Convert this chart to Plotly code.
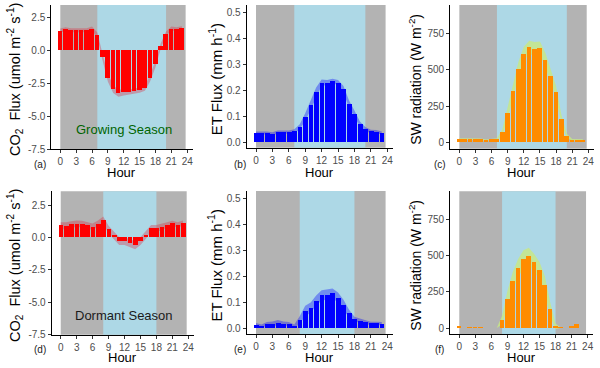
import plotly.graph_objects as go

# hours of the day (bar centres)
hours = list(range(24))

# CO2 flux, umol m-2 s-1
co2_growing = [1.49, 1.59, 1.52, 1.52, 1.52, 1.52, 1.64, 1.14, -0.53, -2.10, -2.95, -3.28,
               -3.18, -3.18, -3.13, -3.03, -2.88, -2.10, -1.04, 0.33, 1.26, 1.64, 1.59, 1.67]
co2_growing_se = [0.15, 0.15, 0.15, 0.15, 0.15, 0.15, 0.15, 0.2, 0.25, 0.3, 0.3, 0.25,
                  0.25, 0.2, 0.2, 0.2, 0.2, 0.25, 0.25, 0.2, 0.15, 0.15, 0.15, 0.15]
co2_dormant = [0.92, 0.87, 1.0, 1.05, 1.03, 0.92, 0.82, 1.05, 1.32, 0.61, 0.18, -0.29,
               -0.29, -0.45, -0.6, -0.29, 0.18, 0.71, 0.71, 0.79, 0.97, 1.08, 0.97, 1.1]
co2_dormant_se = [0.25, 0.3, 0.25, 0.25, 0.25, 0.25, 0.25, 0.25, 0.3, 0.3, 0.3, 0.3,
                  0.3, 0.3, 0.3, 0.3, 0.3, 0.25, 0.25, 0.25, 0.2, 0.2, 0.2, 0.2]

# ET flux, mm h-1
et_growing = [0.036, 0.036, 0.036, 0.033, 0.039, 0.039, 0.039, 0.042, 0.060, 0.097, 0.144, 0.193,
              0.230, 0.230, 0.237, 0.230, 0.205, 0.147, 0.111, 0.070, 0.051, 0.042, 0.041, 0.036]
et_growing_se = [0.006, 0.006, 0.006, 0.006, 0.006, 0.006, 0.006, 0.008, 0.01, 0.015, 0.018, 0.018,
                 0.012, 0.01, 0.008, 0.01, 0.012, 0.015, 0.012, 0.01, 0.008, 0.006, 0.006, 0.006]
et_dormant = [0.014, 0.009, 0.017, 0.018, 0.022, 0.018, 0.017, 0.009, 0.032, 0.067, 0.080, 0.107,
              0.127, 0.130, 0.136, 0.118, 0.090, 0.058, 0.035, 0.030, 0.023, 0.019, 0.019, 0.018]
et_dormant_se = [0.006, 0.006, 0.007, 0.008, 0.01, 0.008, 0.007, 0.006, 0.015, 0.02, 0.02, 0.02,
                 0.02, 0.02, 0.018, 0.02, 0.02, 0.015, 0.01, 0.008, 0.007, 0.006, 0.006, 0.006]

# shortwave radiation, W m-2
sw_growing = [23, 23, 21, 23, 21, 14, 21, 21, 69, 203, 352, 506,
              610, 656, 642, 651, 569, 458, 348, 159, 44, 18, 18, 16]
sw_growing_se = [5, 5, 5, 5, 5, 5, 5, 8, 20, 40, 45, 50,
                 50, 45, 50, 45, 50, 45, 40, 30, 15, 5, 5, 5]
sw_dormant = [7, None, 5, 5, 5, None, None, None, 55, 196, 323, 413,
              478, 496, 452, 397, 298, 129, 12, 2, None, 7, 28, None]
sw_dormant_se = [0, 0, 0, 0, 0, 0, 0, 0, 30, 60, 65, 65,
                 60, 60, 60, 60, 60, 50, 20, 0, 0, 0, 0, 0]

# daytime windows (hours) per season
growing_day = [7, 20]
dormant_day = [8, 18]

x_ticks = [0, 3, 6, 9, 12, 15, 18, 21, 24]
co2_ticks = [-7.5, -5.0, -2.5, 0.0, 2.5]
co2_tick_text = ["-7.5", "-5.0", "-2.5", "0.0", "2.5"]
et_ticks = [0.0, 0.1, 0.2, 0.3, 0.4, 0.5]
et_tick_text = ["0.0", "0.1", "0.2", "0.3", "0.4", "0.5"]
sw_ticks = [0, 250, 500, 750]
sw_tick_text = ["0", "250", "500", "750"]

co2_title = "CO<sub>2</sub>  Flux (umol m<sup>-2</sup> s<sup>-1</sup>)"
et_title = "ET Flux (mm h<sup>-1</sup>)"
sw_title = "SW radiation (W m<sup>-2</sup>)"

W, H = 600, 368
FONT = "Liberation Sans, Arial, sans-serif"
RED_BAND = "rgba(220,40,60,0.35)"
BLUE_BAND = "rgba(0,0,255,0.35)"
GREEN_BAND = "rgba(200,232,130,0.8)"


def fx(p):
    return p / W


def fy(p):
    return 1 - p / H


panels = [
    dict(tag="(a)", vals=co2_growing, se=co2_growing_se, color="#ff0000", band=RED_BAND,
         yr=[-7.5, 3.43], yt=co2_ticks, ytt=co2_tick_text, title=co2_title, tsize=14.5,
         day=growing_day, xp=[51.3, 192.5], yp=[5, 149], tx=15, hour_y=172),
    dict(tag="(b)", vals=et_growing, se=et_growing_se, color="#0000ff", band=BLUE_BAND,
         yr=[-0.021, 0.53], yt=et_ticks, ytt=et_tick_text, title=et_title, tsize=15,
         day=growing_day, xp=[246.7, 392.7], yp=[5, 147.7], tx=215, hour_y=172),
    dict(tag="(c)", vals=sw_growing, se=sw_growing_se, color="#ff8c00", band=GREEN_BAND,
         yr=[-44, 948], yt=sw_ticks, ytt=sw_tick_text, title=sw_title, tsize=14,
         day=growing_day, xp=[450.2, 593.7], yp=[5, 148.7], tx=415, hour_y=172),
    dict(tag="(d)", vals=co2_dormant, se=co2_dormant_se, color="#ff0000", band=RED_BAND,
         yr=[-7.5, 3.56], yt=co2_ticks, ytt=co2_tick_text, title=co2_title, tsize=14.5,
         day=dormant_day, xp=[51.7, 193.6], yp=[191.3, 334.7], tx=15, hour_y=357),
    dict(tag="(e)", vals=et_dormant, se=et_dormant_se, color="#0000ff", band=BLUE_BAND,
         yr=[-0.022, 0.53], yt=et_ticks, ytt=et_tick_text, title=et_title, tsize=15,
         day=dormant_day, xp=[246.7, 392.7], yp=[191, 334], tx=215, hour_y=357),
    dict(tag="(f)", vals=sw_dormant, se=sw_dormant_se, color="#ff8c00", band=GREEN_BAND,
         yr=[-44, 947], yt=sw_ticks, ytt=sw_tick_text, title=sw_title, tsize=14,
         day=dormant_day, xp=[450.2, 593], yp=[191.3, 334.4], tx=415, hour_y=357),
]

fig = go.Figure()
layout = {}
shapes = []
annotations = []
n = len(panels)

for i, p in enumerate(panels, start=1):
    xa = "x" if i == 1 else f"x{i}"
    ya = "y" if i == 1 else f"y{i}"
    yb = f"y{i + n}"  # overlay axis so the bars sit on top of the ribbon
    base = [v if v is not None else 0 for v in p["vals"]]
    lo = [v - s for v, s in zip(base, p["se"])]
    hi = [v + s for v, s in zip(base, p["se"])]

    # ribbon (mean +/- se) drawn behind the bars
    fig.add_trace(go.Scatter(x=hours, y=lo, mode="lines", line=dict(width=0),
                             xaxis=xa, yaxis=ya, showlegend=False, hoverinfo="skip"))
    fig.add_trace(go.Scatter(x=hours, y=hi, mode="lines", line=dict(width=0),
                             fill="tonexty", fillcolor=p["band"],
                             xaxis=xa, yaxis=ya, showlegend=False, hoverinfo="skip"))
    fig.add_trace(go.Bar(x=hours, y=p["vals"], width=0.88,
                         marker=dict(color=p["color"], line=dict(width=0)),
                         xaxis=xa, yaxis=yb, showlegend=False))

    axis_style = dict(showline=True, linecolor="black", linewidth=1.1, ticks="outside",
                      ticklen=3, tickcolor="#333333", showgrid=False, zeroline=False,
                      automargin=False,
                      tickfont=dict(size=10, color="#4d4d4d", family=FONT))
    ydom = [fy(p["yp"][1]), fy(p["yp"][0])]
    layout["xaxis" if i == 1 else f"xaxis{i}"] = dict(
        domain=[fx(p["xp"][0]), fx(p["xp"][1])], range=[-1.7, 25], anchor=ya,
        tickvals=x_ticks, **axis_style)
    layout["yaxis" if i == 1 else f"yaxis{i}"] = dict(
        domain=ydom, range=p["yr"], anchor=xa,
        tickvals=p["yt"], ticktext=p["ytt"], **axis_style)
    layout[f"yaxis{i + n}"] = dict(domain=ydom, range=p["yr"], anchor=xa, overlaying=ya,
                                  visible=False, showgrid=False, zeroline=False, automargin=False)

    # night / day background
    shapes.append(dict(type="rect", xref=xa, yref=f"{ya} domain", x0=0, x1=23.7, y0=0, y1=1,
                       fillcolor="#b3b3b3", line=dict(width=0), layer="below"))
    shapes.append(dict(type="rect", xref=xa, yref=f"{ya} domain", x0=p["day"][0], x1=p["day"][1],
                       y0=0, y1=1, fillcolor="lightblue", line=dict(width=0), layer="below"))

    xmid = (p["xp"][0] + p["xp"][1]) / 2
    annotations.append(dict(text="Hour", x=fx(xmid), y=fy(p["hour_y"]), xref="paper", yref="paper",
                            showarrow=False, xanchor="center", yanchor="middle",
                            font=dict(size=13, color="black", family=FONT)))
    annotations.append(dict(text=p["tag"], x=fx(p["tx"] + 25), y=fy(p["hour_y"] - 8),
                            xref="paper", yref="paper", showarrow=False,
                            xanchor="center", yanchor="middle",
                            font=dict(size=10, color="#1a1a1a", family=FONT)))
    annotations.append(dict(text=p["title"], x=fx(p["tx"]), y=fy((p["yp"][0] + p["yp"][1]) / 2 + 3),
                            xref="paper", yref="paper", showarrow=False, textangle=-90,
                            xanchor="center", yanchor="middle",
                            font=dict(size=p["tsize"], color="black", family=FONT)))

annotations.append(dict(text="Growing Season", x=fx(124), y=fy(129.3), xref="paper", yref="paper",
                        showarrow=False, xanchor="center", yanchor="middle",
                        font=dict(size=13, color="darkgreen", family=FONT)))
annotations.append(dict(text="Dormant Season", x=fx(124), y=fy(315.7), xref="paper", yref="paper",
                        showarrow=False, xanchor="center", yanchor="middle",
                        font=dict(size=13, color="#1a1a1a", family=FONT)))

fig.update_layout(width=W, height=H, margin=dict(l=0, r=0, t=0, b=0, autoexpand=False),
                  paper_bgcolor="white", plot_bgcolor="white",
                  font=dict(family=FONT), shapes=shapes, annotations=annotations,
                  bargap=0, **layout)

# page body has a default 8px margin; drop it so the figure fills the window
fig.write_html("out.html", config={"displayModeBar": False},
               post_script="document.body.style.margin='0';")
